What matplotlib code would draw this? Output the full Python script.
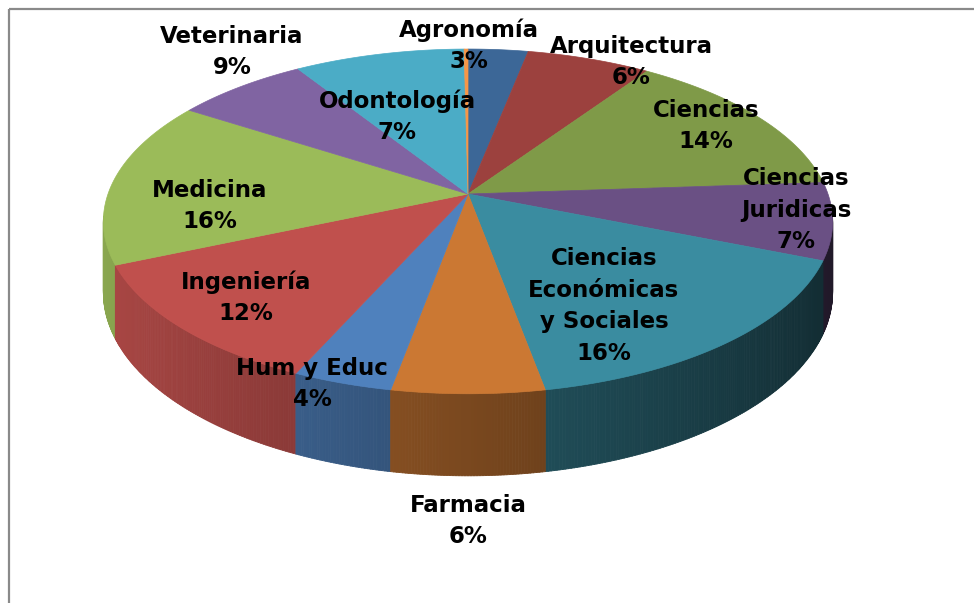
import numpy as np
import matplotlib
matplotlib.use("Agg")
import matplotlib.pyplot as plt
from matplotlib.patches import Polygon, Rectangle
from matplotlib.collections import PolyCollection
from matplotlib.colors import to_rgb

# ---------------- data ----------------
categories = ["Agronomía", "Arquitectura", "Ciencias", "Ciencias\nJuridicas",
              "Ciencias\nEconómicas\ny Sociales", "Farmacia", "Hum y Educ",
              "Ingeniería", "Medicina", "Odontología", "Veterinaria", ""]
values = [3.1, 6.4, 14.4, 7.2, 16.0, 5.8, 3.8, 11.8, 15.6, 6.9, 8.8, 0.2]
colors = ["#3C6797", "#9C413E", "#7F9A48", "#6A5084", "#3A8CA0", "#CB7833",
          "#4F81BD", "#C0504D", "#9BBB59", "#8064A2", "#4BACC6", "#F79646"]
# label block centres (pixels)
label_pos = [(469, 46), (631, 62), (706, 126), (796, 210), (604, 306),
             (468, 521), (312, 384), (246, 298), (210, 206), (397, 117),
             (232, 52), None]

# ---------------- layout ----------------
W, H = 974, 603
fig = plt.figure(figsize=(W / 100, H / 100), dpi=100)
ax = fig.add_axes([0, 0, 1, 1])
ax.set_xlim(0, W)
ax.set_ylim(H, 0)
ax.axis("off")

CX, CY = 468, 194       # apex of the pie
RX, A, K = 360, 168, 0.159
DEPTH = 69


def proj(r, th, z=0.0):
    D = -r * np.cos(th)
    s = 1.0 / (1.0 - K * D)
    return CX + RX * r * np.sin(th) * s, CY + (A * D + z) * s


total = float(sum(values))
cum = np.concatenate([[0], np.cumsum(values)]) / total * 2 * np.pi

# ---------------- side walls ----------------
quads, qcols, qdepth = [], [], []
for i, v in enumerate(values):
    t0, t1 = cum[i], cum[i + 1]
    n = max(2, int(np.degrees(t1 - t0) / 0.4))
    ts = np.linspace(t0, t1, n + 1)
    base = np.array(to_rgb(colors[i]))
    for a, b in zip(ts[:-1], ts[1:]):
        m = 0.5 * (a + b)
        D = -np.cos(m)
        if D < K - 0.03:
            continue
        p1 = proj(1, a); p2 = proj(1, b)
        p3 = proj(1, b, DEPTH); p4 = proj(1, a, DEPTH)
        f = 0.6 - 0.3 * np.sin(m)
        c = np.clip(base * f, 0, 1)
        quads.append([p1, p2, p3, p4])
        qcols.append(c)
        qdepth.append(D)

order = np.argsort(qdepth)
quads = [quads[j] for j in order]
qcols = [qcols[j] for j in order]
ax.add_collection(PolyCollection(quads, facecolors=qcols, edgecolors=qcols,
                                 linewidths=0.6, antialiased=True))

# ---------------- top faces ----------------
for i, v in enumerate(values):
    t0, t1 = cum[i], cum[i + 1]
    n = max(2, int(np.degrees(t1 - t0) / 0.5))
    ts = np.linspace(t0, t1, n + 1)
    pts = [(CX, CY)] + [proj(1, t) for t in ts]
    ax.add_patch(Polygon(pts, closed=True, facecolor=colors[i],
                         edgecolor=colors[i], linewidth=0.5))

# ---------------- labels ----------------
for i, v in enumerate(values):
    if label_pos[i] is None or categories[i] == "":
        continue
    pct = int(round(100 * v / total))
    ax.text(label_pos[i][0], label_pos[i][1], f"{categories[i]}\n{pct}%",
            ha="center", va="center", ma="center", fontsize=16.5,
            fontweight="bold", family=["DejaVu Sans"], color="black",
            linespacing=1.47)

# ---------------- frame ----------------
ax.add_patch(Rectangle((9, 9), 1100, 800, fill=False, edgecolor="#8a8a8a",
                       linewidth=1.6))

fig.savefig("out.png", dpi=100)
